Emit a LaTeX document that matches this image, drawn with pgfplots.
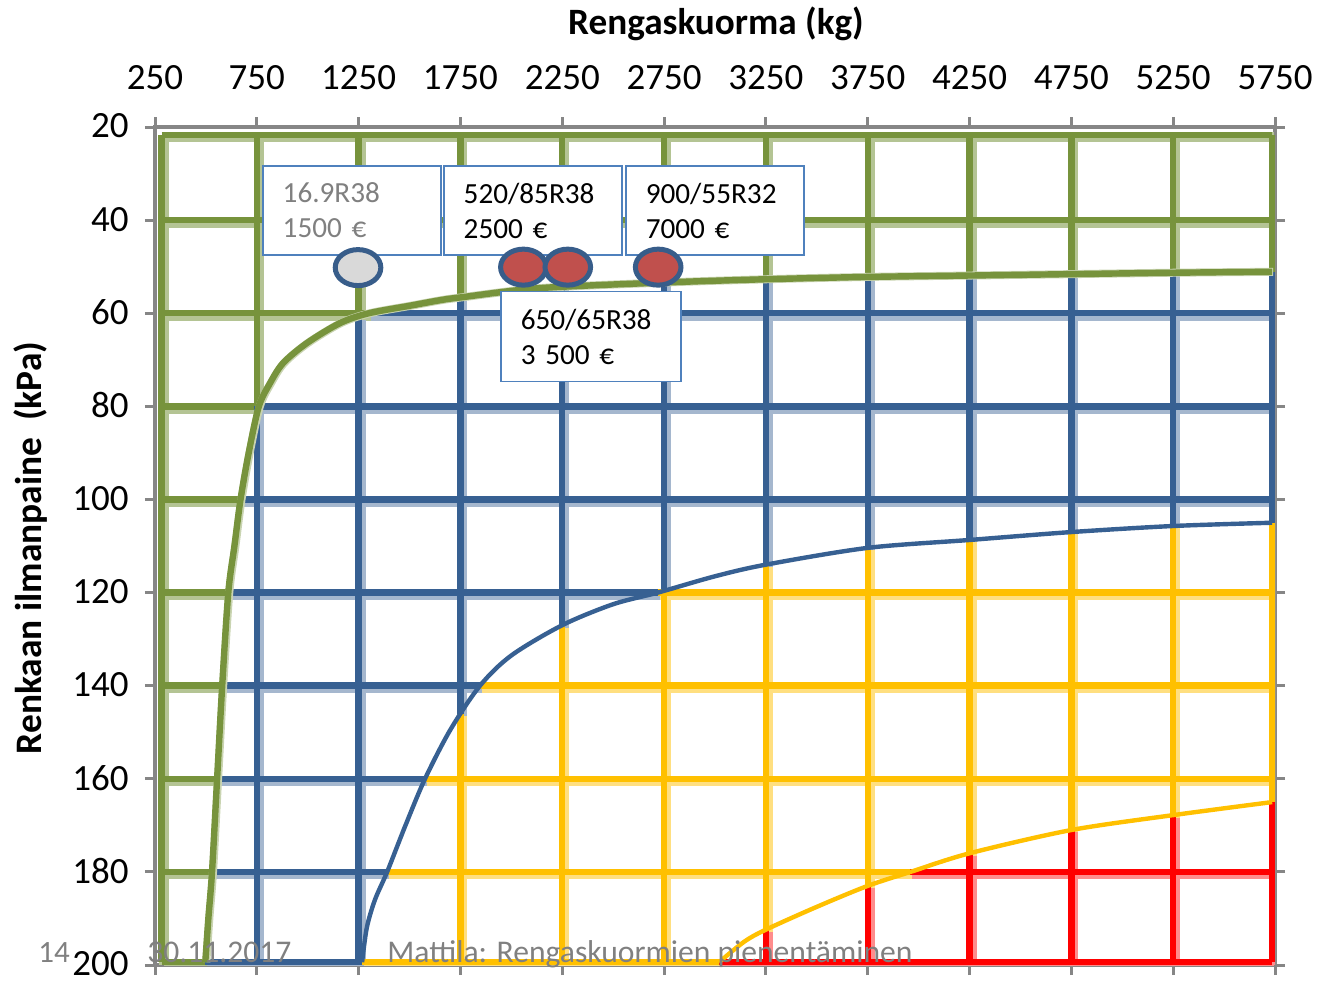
\documentclass[border=0pt]{standalone}
\usepackage{fontspec}
\setmainfont{Carlito}
\usepackage{pgfplots}
\pgfplotsset{compat=1.18}
\usepackage{pgfplotstable}

\definecolor{grn}{RGB}{119,147,60}
\definecolor{blu}{RGB}{55,96,146}
\definecolor{ylw}{RGB}{255,192,0}
\definecolor{rd}{RGB}{255,0,0}
\definecolor{boxblue}{RGB}{79,129,189}
\definecolor{ovalline}{RGB}{56,93,138}
\definecolor{ovalred}{RGB}{192,80,77}
\definecolor{ovalgray}{RGB}{217,217,217}
\definecolor{axgray}{RGB}{134,134,134}
\definecolor{foot}{RGB}{128,128,128}

% oval marker for the tyres
\pgfdeclareplotmark{oval}{%
  \pgfpathellipse{\pgfpointorigin}{\pgfqpoint{11.4pt}{0pt}}{\pgfqpoint{0pt}{9pt}}%
  \pgfusepathqfillstroke}

% grid segments per zone (nan = break)
\pgfplotstableread{
x y
282 21.7
282 199.4
nan nan
750 21.7
750 80
nan nan
1250 21.7
1250 61
nan nan
1750 21.7
1750 56.6
nan nan
2250 21.7
2250 54.5
nan nan
2750 21.7
2750 53.4
nan nan
3250 21.7
3250 52.7
nan nan
3750 21.7
3750 52.2
nan nan
4250 21.7
4250 51.9
nan nan
4750 21.7
4750 51.6
nan nan
5250 21.7
5250 51.3
nan nan
5736 21.7
5736 51.1
nan nan
282 21.7
5736 21.7
nan nan
282 40
5736 40
nan nan
282 60
1300 60
nan nan
282 80
760 80
nan nan
282 100
670 100
nan nan
282 120
610 120
nan nan
282 140
580 140
nan nan
282 160
555 160
nan nan
282 180
530 180
nan nan
282 199.4
497 199.4
}\greenseg

\pgfplotstableread{
x y
750 80
750 199.4
nan nan
1250 61
1250 199.4
nan nan
1750 56.6
1750 146
nan nan
2250 54.5
2250 127
nan nan
2750 53.4
2750 119.6
nan nan
3250 52.7
3250 114
nan nan
3750 52.2
3750 110.4
nan nan
4250 51.9
4250 108.7
nan nan
4750 51.6
4750 107
nan nan
5250 51.3
5250 105.7
nan nan
5736 51.1
5736 105
nan nan
1300 60
5736 60
nan nan
760 80
5736 80
nan nan
670 100
5736 100
nan nan
610 120
2720 120
nan nan
580 140
1846 140
nan nan
555 160
1576 160
nan nan
530 180
1390 180
nan nan
497 199.4
1267 199.4
}\blueseg

\pgfplotstableread{
x y
1750 146
1750 199.4
nan nan
2250 127
2250 199.4
nan nan
2750 119.6
2750 199.4
nan nan
3250 114
3250 192.4
nan nan
3750 110.4
3750 183
nan nan
4250 108.7
4250 176
nan nan
4750 107
4750 171
nan nan
5250 105.7
5250 167.8
nan nan
5736 105
5736 165
nan nan
2720 120
5736 120
nan nan
1846 140
5736 140
nan nan
1576 160
5736 160
nan nan
1390 180
3960 180
nan nan
1267 199.4
3020 199.4
}\yellowseg

\pgfplotstableread{
x y
3250 192.4
3250 199.4
nan nan
3750 183
3750 199.4
nan nan
4250 176
4250 199.4
nan nan
4750 171
4750 199.4
nan nan
5250 167.8
5250 199.4
nan nan
5736 165
5736 199.4
nan nan
3960 180
5736 180
nan nan
3020 199.4
5736 199.4
}\redseg

\begin{document}
\begin{tikzpicture}
\useasboundingbox (-77.5pt,-8pt) rectangle (582.5pt,482.5pt);
\begin{axis}[
    scale only axis,
    width=560pt,
    height=419pt,
    xmin=250, xmax=5750,
    ymin=20, ymax=200,
    y dir=reverse,
    xtick={250,750,...,5750},
    ytick={20,40,...,200},
    xtick pos=both,
    ytick pos=both,
    xticklabel pos=upper,
    yticklabel pos=lower,
    tick align=outside,
    major tick length=5pt,
    axis line style={axgray, line width=1.75pt},
    tick style={axgray, line width=1.5pt},
    /pgf/number format/1000 sep={},
    /pgf/number format/assume math mode=true,
    ticklabel style={font=\fontsize{18.5}{22}\selectfont, text=black},
    xticklabel style={anchor=base, inner sep=0pt, yshift=14pt},
    yticklabel style={anchor=east, inner sep=0pt, xshift=-8pt, yshift=0.5pt},
    unbounded coords=jump,
]
% shadows of the grid
\addplot[no marks, grn!55!white, line width=5pt, xshift=1pt, yshift=-1.2pt] table {\greenseg};
\addplot[no marks, blu!45!white, line width=5pt, xshift=1pt, yshift=-1.2pt] table {\blueseg};
\addplot[no marks, ylw!50!white, line width=5pt, xshift=1pt, yshift=-1.2pt] table {\yellowseg};
\addplot[no marks, rd!45!white, line width=5pt, xshift=1pt, yshift=-1.2pt] table {\redseg};
% grid
\addplot[no marks, grn, line width=3.2pt] table {\greenseg};
\addplot[no marks, blu, line width=3.2pt] table {\blueseg};
\addplot[no marks, ylw, line width=3.2pt] table {\yellowseg};
\addplot[no marks, rd, line width=3.2pt] table {\redseg};

% zone limits
\addplot[no marks, smooth, grn!40!white, line width=4pt, xshift=0.5pt] coordinates {
 (497,199.4) (512,190) (530,180) (555,160) (580,140) (610,120) (640,110)
 (670,100) (710,90) (760,80) (815,75) (879,70.7) (996,66.4) (1159,62.1)
 (1300,60) (1500,58.4) (1650,57.2) (1750,56.6) (2141,54.6) (2750,53.4)
 (3250,52.7) (3750,52.2) (4250,51.9) (4750,51.6) (5250,51.3) (5736,51.1)
};
\addplot[no marks, smooth, grn, line width=3.2pt] coordinates {
 (497,199.4) (512,190) (530,180) (555,160) (580,140) (610,120) (640,110)
 (670,100) (710,90) (760,80) (815,75) (879,70.7) (996,66.4) (1159,62.1)
 (1300,60) (1500,58.4) (1650,57.2) (1750,56.6) (2141,54.6) (2750,53.4)
 (3250,52.7) (3750,52.2) (4250,51.9) (4750,51.6) (5250,51.3) (5736,51.1)
};
\addplot[no marks, smooth, blu, line width=2.2pt] coordinates {
 (1267,199.4) (1290,192) (1330,186) (1390,180) (1480,170) (1576,160)
 (1700,149.5) (1846,140) (2000,133.5) (2250,127) (2500,122.5) (2720,120)
 (3000,116.5) (3250,114) (3750,110.4) (4250,108.7) (4750,107) (5250,105.7)
 (5736,105)
};
\addplot[no marks, smooth, ylw, line width=2.2pt] coordinates {
 (3020,199.4) (3143,195) (3250,192.4) (3500,187.5) (3750,183) (3960,180)
 (4250,176) (4750,171) (5250,167.8) (5736,165)
};

% tyre boxes
\node[draw=boxblue, line width=0.8pt, fill=white, anchor=north west,
      minimum width=89pt, minimum height=44.5pt, text width=69pt, align=left,
      inner xsep=10pt, font=\fontsize{14.6}{17.5}\selectfont, text=foot]
      at (axis cs:775,28.2) {16.9R38\\1500 €};
\node[draw=boxblue, line width=0.8pt, fill=white, anchor=north west,
      minimum width=89pt, minimum height=44.5pt, text width=69pt, align=left,
      inner xsep=10pt, font=\fontsize{14.6}{17.5}\selectfont]
      at (axis cs:1664,28.2) {520/85R38\\2500 €};
\node[draw=boxblue, line width=0.8pt, fill=white, anchor=north west,
      minimum width=89pt, minimum height=44.5pt, text width=69pt, align=left,
      inner xsep=10pt, font=\fontsize{14.6}{17.5}\selectfont]
      at (axis cs:2558,28.2) {900/55R32\\7000 €};
\node[draw=boxblue, line width=0.8pt, fill=white, anchor=north west,
      minimum width=90pt, minimum height=45pt, text width=70pt, align=left,
      inner xsep=10pt, font=\fontsize{14.6}{17.5}\selectfont]
      at (axis cs:1944,55.2) {650/65R38\\3 500 €};

% tyres
\addplot[only marks, mark=oval, mark options={draw=ovalline, fill=ovalgray, line width=2.5pt}]
  coordinates {(1247,50.2)};
\addplot[only marks, mark=oval, mark options={draw=ovalline, fill=ovalred, line width=2.5pt}]
  coordinates {(2059,50.1) (2277,50.1) (2721,50.1)};
\end{axis}

\node[anchor=base, font=\bfseries\fontsize{18.6}{22}\selectfont] at (280.5pt,465pt) {Rengaskuorma (kg)};
\node[rotate=90, inner sep=0pt, font=\bfseries\fontsize{18.7}{22}\selectfont] at (-62pt,208.5pt) {Renkaan ilmanpaine\ \ (kPa)};

% footer
\node[anchor=base west, inner sep=0pt, text=foot, font=\fontsize{15.5}{18}\selectfont] at (-58.5pt,1.5pt) {14};
\node[anchor=base west, inner sep=0pt, text=foot, font=\fontsize{15.8}{19}\selectfont] at (-4pt,1.5pt) {30.11.2017};
\node[anchor=base west, inner sep=0pt, text=foot, font=\fontsize{15.8}{19}\selectfont] at (116pt,1.5pt) {Mattila: Rengaskuormien pienentäminen};
\end{tikzpicture}
\end{document}
